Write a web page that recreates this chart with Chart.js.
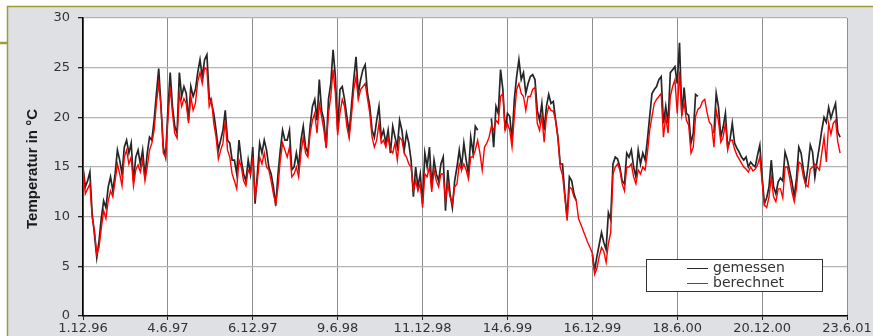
<!DOCTYPE html>
<html>
<head>
<meta charset="utf-8">
<script src="https://cdn.jsdelivr.net/npm/chart.js@4"></script>
<style>
  html, body { margin: 0; padding: 0; background: #fff; }
  canvas { display: block; }
</style>
</head>
<body>
<canvas id="tempChart" width="873" height="336"></canvas>
<script>
// 1. DATA
// ------------------------------------------------------------------
// x = days since 1.12.96, one reading every DAY_STEP days
const DAY_STEP = 5;
const TICK_STEP = 185;
const tickLabels = ['1.12.96', '4.6.97', '6.12.97', '9.6.98', '11.12.98', '14.6.99', '16.12.99', '18.6.00', '20.12.00', '23.6.01'];
const seriesNames = ['gemessen', 'berechnet'];
const yTitle = 'Temperatur in °C';

// gemessen (black) - null where no measurement
const measured = [
  15.0,13.0,13.6,14.5,10.3,8.2,5.9,7.6,9.9,11.6, 10.9,13.0,14.0,12.6,14.3,16.7,15.7,14.3,17.0,17.7,
  16.4,17.4,13.6,16.0,16.7,15.3,16.7,14.0,16.4,18.0, 17.7,19.7,22.4,24.9,21.1,17.0,16.0,20.7,24.5,21.1,
  19.1,18.4,24.5,22.1,23.1,22.4,19.7,23.1,22.1,22.8, 24.5,25.8,24.1,25.8,26.3,22.1,21.4,20.4,18.7,16.7,
  17.7,18.7,20.7,17.7,17.4,15.7,
  15.7,14.3,17.7,15.7,14.3,13.6,15.7,14.3,17.0,11.3, 14.3,17.4,16.4,17.7,16.7,15.0,14.3,13.0,11.1,14.3,
  16.7,18.7,17.7,17.7,18.7,14.7,15.0,16.4,15.0,17.7, 19.1,17.0,16.4,19.1,21.1,21.8,19.7,23.8,20.7,19.7,
  17.0,21.8,23.4,26.8,24.1,18.7,22.8,23.1,21.8,20.1, 18.4,21.1,23.8,26.1,22.4,23.8,24.8,25.3,22.4,21.1,
  18.7,18.0,19.7,21.1,18.0,18.7,17.4,
  18.7,16.4,19.1,18.0,17.0,19.7,18.7,16.7,18.4,17.4, 15.7,12.0,15.0,13.0,14.3,11.3,16.4,15.0,17.0,13.0,
  15.7,14.3,13.6,15.3,16.0,10.6,14.7,12.3,10.9,13.6, 15.0,16.7,15.0,17.4,15.7,14.3,18.0,16.4,19.1,18.7,
  null,null,null,null,null,19.9,17.0,21.1,20.4,24.8, 22.8,18.7,20.4,20.1,17.7,21.8,24.1,25.8,23.8,24.5,
  22.4,23.4,24.1,24.3,23.8,20.7,19.7,
  21.4,18.7,21.1,22.3,21.4,21.6,19.7,18.0,15.3,15.3, 12.3,9.9,14.0,13.6,12.3,11.6,null,null,null,null,
  null,null,6.2,4.6,6.0,7.2,8.4,7.4,6.7,10.4, 9.7,15.3,16.0,15.8,15.0,13.6,13.3,16.4,16.0,16.7,
  15.0,14.0,16.7,15.3,16.4,15.7,17.7,20.1,22.4,22.8, 23.1,23.8,24.1,19.4,21.1,19.4,24.5,24.8,25.1,23.4,
  27.5,20.2,23.0,20.4,20.2,17.4,18.4,
  22.3,22.1,null,null,null,null,null,null,18.4,22.4, 21.0,18.0,19.0,20.4,17.0,17.7,19.4,17.4,16.9,16.5,
  16.0,15.7,16.0,15.0,15.5,15.2,15.0,16.2,17.2,14.0, 11.3,11.9,13.0,15.7,13.0,12.3,13.5,13.9,13.6,16.5,
  15.7,14.6,13.5,12.0,13.9,17.0,16.4,14.7,13.3,15.0, 17.2,16.5,14.0,15.7,17.1,18.7,20.0,19.5,21.0,19.9,
  20.7,21.4,18.5,18.0
];

// berechnet (red)
const calculated = [
  15.0,12.3,12.8,13.3,9.9,8.6,6.2,6.9,8.9,10.6, 9.8,11.6,12.6,12.0,13.6,15.3,14.3,13.1,16.0,16.7,
  15.3,16.0,13.1,14.7,15.2,14.5,15.7,13.6,15.0,16.7, 17.4,18.7,21.4,23.4,21.1,16.4,16.0,19.7,23.1,20.4,
  18.4,17.9,22.4,21.1,21.9,21.4,19.4,22.1,20.7,21.4, 23.6,24.5,23.4,25.0,24.8,21.1,21.8,19.4,18.0,15.8,
  16.7,17.4,19.7,16.7,16.0,14.3,
  13.6,12.8,15.7,15.0,13.6,13.1,14.7,14.3,16.0,12.0, 13.6,16.0,15.3,16.4,15.0,14.7,13.6,12.3,11.3,13.0,
  15.7,17.4,16.7,16.0,17.0,14.0,14.3,15.0,14.0,16.4, 18.0,16.4,16.0,18.4,19.7,20.4,18.4,21.4,20.1,18.7,
  16.9,20.4,22.1,24.8,22.4,18.2,20.4,21.8,21.1,19.1, 17.9,20.1,22.8,24.1,21.8,22.8,23.1,23.4,21.9,20.4,
  18.0,17.0,17.7,19.4,17.4,17.7,17.0,
  18.0,16.7,16.4,17.4,15.7,18.0,17.7,16.4,16.0,15.3, 15.0,12.6,13.6,12.6,13.3,10.9,14.3,14.0,15.0,12.5,
  14.7,13.6,13.0,14.3,14.3,11.6,13.3,12.0,11.3,13.0, 13.3,15.3,14.7,15.3,14.7,13.8,16.0,16.0,16.7,17.7,
  16.4,14.7,17.0,17.4,18.0,19.1,18.7,19.7,19.4,22.1, 22.4,18.7,19.4,18.7,17.0,20.1,22.8,23.4,22.4,22.1,
  20.7,22.1,22.1,22.8,23.0,19.4,18.7,
  20.1,17.5,20.1,21.1,20.7,20.6,19.7,18.0,15.0,14.2, 12.0,9.6,13.0,12.8,12.0,11.6,9.8,9.2,8.6,8.0,
  7.4,6.9,6.3,4.2,4.8,6.0,6.9,6.5,5.4,7.3, 8.4,14.3,15.0,15.3,14.7,13.3,12.6,15.0,15.0,15.3,
  14.0,13.3,14.7,14.3,15.0,14.7,16.4,18.7,20.1,21.4, 21.8,22.1,22.4,18.0,20.1,18.4,22.1,23.1,23.8,20.4,
  24.6,20.2,21.5,19.7,19.2,16.4,17.0,
  20.1,20.8,21.0,21.6,21.8,20.5,19.5,19.2,17.0,20.7, 19.6,17.5,18.0,19.4,16.7,17.7,17.7,16.8,16.2,15.8,
  15.4,15.0,14.8,14.5,15.0,14.6,14.8,15.2,16.0,13.5, 11.2,10.9,12.0,14.0,12.0,11.5,12.8,12.8,11.9,15.0,
  15.0,13.9,12.5,11.5,12.9,15.5,15.3,14.0,13.2,13.0, 14.8,15.0,15.3,15.0,14.7,16.4,18.0,15.5,19.4,18.3,
  19.4,19.7,17.5,16.4
];

const toPoints = arr => arr.map((v, i) => ({ x: i * DAY_STEP, y: v }));

// 2. PLUGINS (slide frame, y title, legend box)
// ------------------------------------------------------------------
const framePlugin = {
  id: 'frame',
  beforeDraw(chart) {
    const { ctx, chartArea: a } = chart;
    ctx.save();
    ctx.fillStyle = '#ffffff';
    ctx.fillRect(0, 0, chart.width, chart.height);
    ctx.fillStyle = '#dfe0e3';
    ctx.fillRect(7, 6, chart.width - 7, chart.height - 6);
    ctx.strokeStyle = '#9c9c3c';
    ctx.lineWidth = 1.5;
    ctx.beginPath();
    ctx.moveTo(7.5, chart.height); ctx.lineTo(7.5, 6.5); ctx.lineTo(chart.width, 6.5);
    ctx.stroke();
    ctx.lineWidth = 2.5;
    ctx.beginPath(); ctx.moveTo(0, 43); ctx.lineTo(8, 43); ctx.stroke();
    ctx.fillStyle = '#ffffff';
    ctx.fillRect(a.left, a.top, a.right - a.left, a.bottom - a.top);
    ctx.restore();
  },
  afterDraw(chart) {
    const { ctx, chartArea: a } = chart;
    ctx.save();
    // y axis title
    ctx.translate(33, (a.top + a.bottom) / 2 + 2);
    ctx.rotate(-Math.PI / 2);
    ctx.font = 'bold 13px "Liberation Sans Narrow", "Liberation Sans"';
    const w = ctx.measureText(yTitle).width;
    ctx.scale(120 / w, 1.15);
    ctx.fillStyle = '#1a1a1a';
    ctx.textAlign = 'center';
    ctx.textBaseline = 'middle';
    ctx.fillText(yTitle, 0, 0);
    ctx.restore();

    // legend
    ctx.save();
    ctx.fillStyle = '#fff';
    ctx.fillRect(646, 259, 176, 32);
    ctx.strokeStyle = '#333';
    ctx.lineWidth = 1;
    ctx.strokeRect(646.5, 259.5, 176, 32);
    ctx.font = '14px "DejaVu Sans"';
    ctx.textBaseline = 'middle';
    chart.data.datasets.forEach((ds, k) => {
      const y = 268 + k * 15;
      ctx.strokeStyle = ds.borderColor;
      ctx.lineWidth = 1;
      ctx.beginPath(); ctx.moveTo(687, y + 0.5); ctx.lineTo(708, y + 0.5); ctx.stroke();
      ctx.fillStyle = '#333';
      ctx.fillText(ds.label, 713, y);
    });
    ctx.restore();
  }
};

// 3. CHART
// ------------------------------------------------------------------
const ctx = document.getElementById('tempChart').getContext('2d');
const tickFont = { family: '"DejaVu Sans"', size: 13 };

new Chart(ctx, {
  type: 'line',
  data: {
    datasets: [
      { label: seriesNames[0], data: toPoints(measured), borderColor: '#262626', borderWidth: 1.7, order: 2, spanGaps: false },
      { label: seriesNames[1], data: toPoints(calculated), borderColor: '#ff0000', borderWidth: 1.4, order: 1 }
    ]
  },
  options: {
    responsive: false,
    animation: false,
    layout: { padding: { top: 18, right: 26, left: 0, bottom: 0 } },
    elements: { point: { radius: 0 }, line: { tension: 0 } },
    plugins: { legend: { display: false }, tooltip: { enabled: false } },
    scales: {
      x: {
        type: 'linear', min: 0, max: TICK_STEP * (tickLabels.length - 1),
        afterFit: s => { s.height = 20; },
        ticks: {
          stepSize: TICK_STEP, autoSkip: false, maxRotation: 0, padding: 1,
          color: '#333', font: tickFont,
          callback: v => tickLabels[Math.round(v / TICK_STEP)]
        },
        grid: { color: '#8e8e8e', lineWidth: 1, tickLength: 4, tickColor: '#222' },
        border: { color: '#000', width: 1.5 }
      },
      y: {
        min: 0, max: 30,
        afterFit: s => { s.width = 83; },
        ticks: { stepSize: 5, padding: 8, color: '#333', font: tickFont },
        grid: { color: '#b4b4b4', lineWidth: 1.3, tickLength: 5, tickColor: '#222' },
        border: { color: '#000', width: 1.5 }
      }
    }
  },
  plugins: [framePlugin]
});
</script>
</body>
</html>
